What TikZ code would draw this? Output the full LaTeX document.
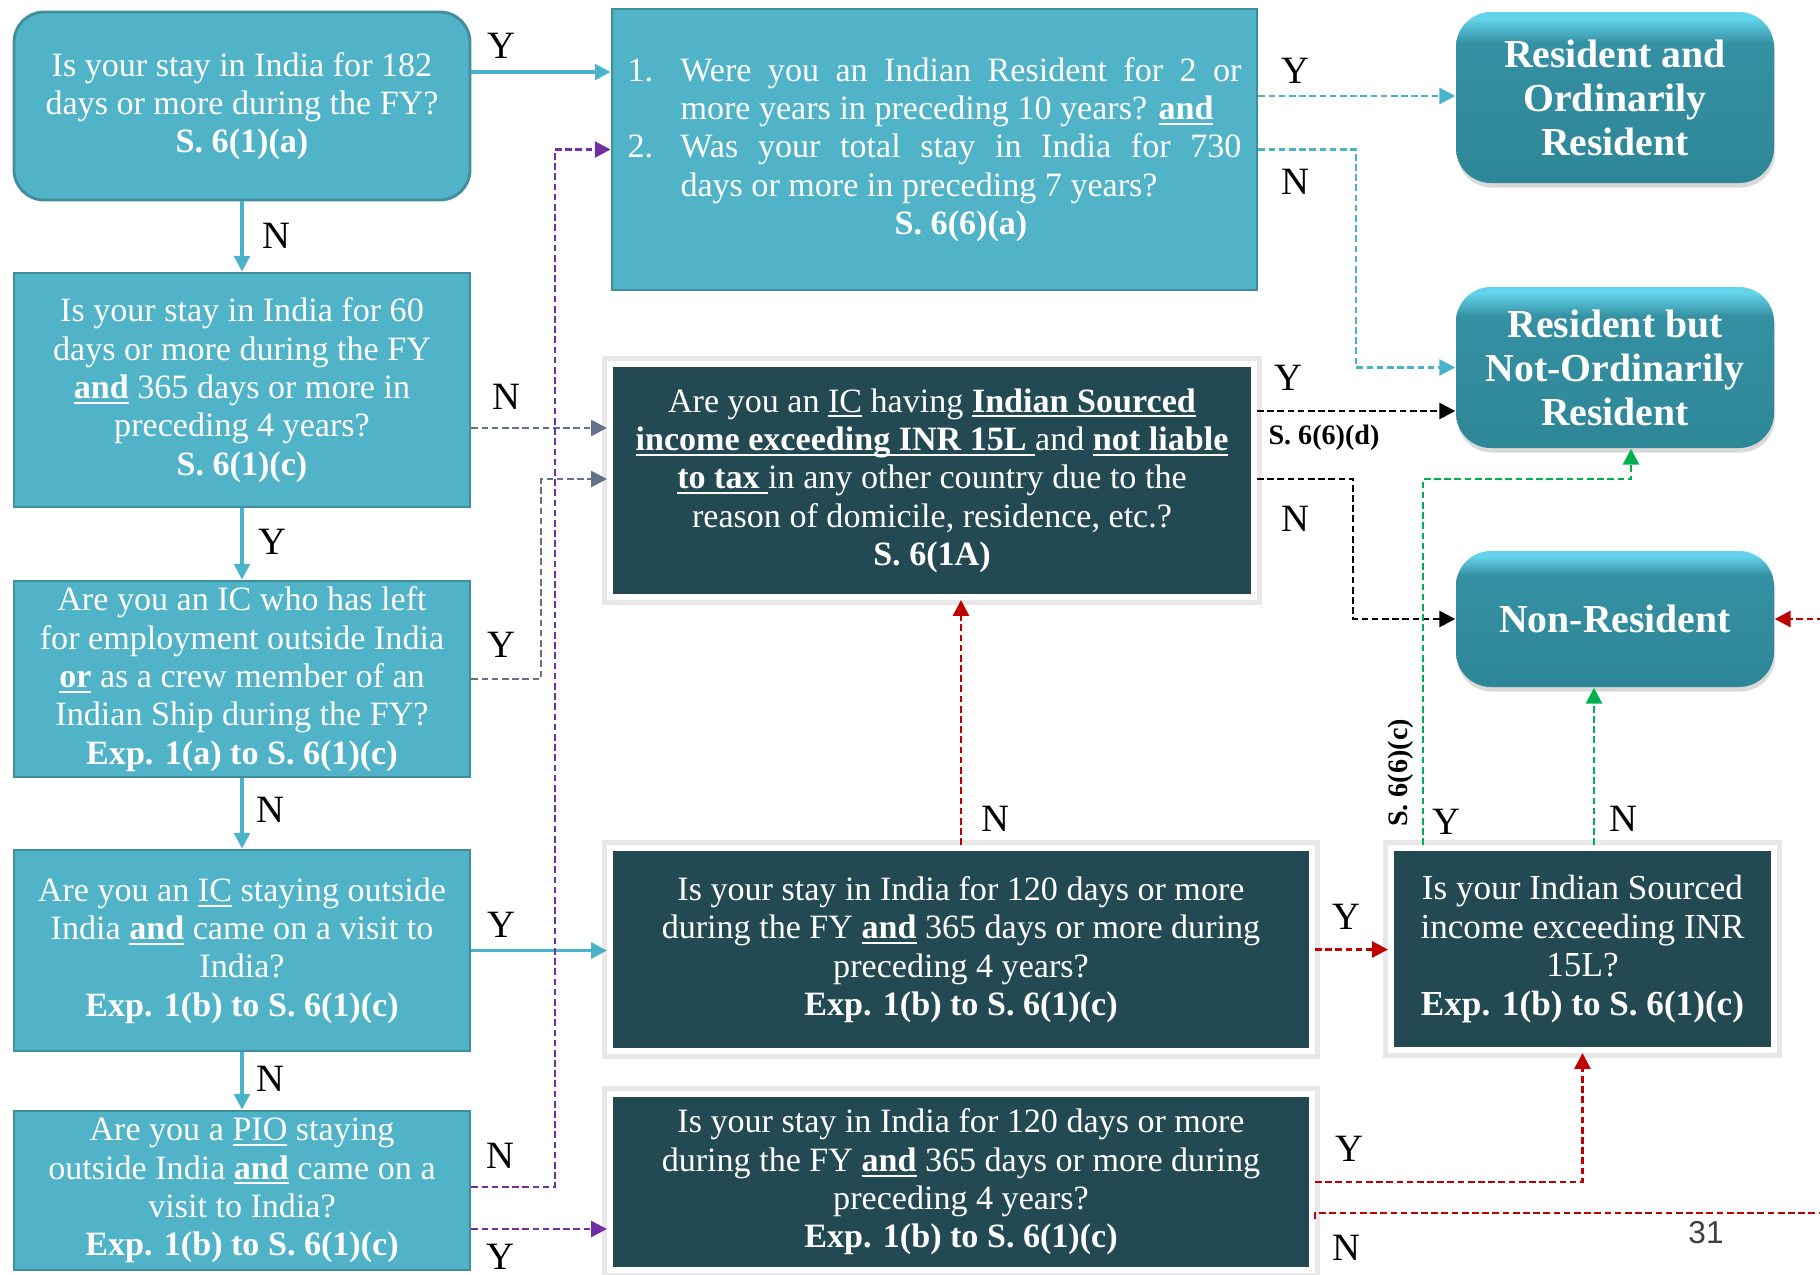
\documentclass[tikz,border=0pt]{standalone}
\usepackage{fontspec}
\setmainfont{Liberation Serif}
\setsansfont{Liberation Sans}
\usetikzlibrary{arrows.meta,shadows}

\definecolor{qfill}{HTML}{50B3C8}
\definecolor{qedge}{HTML}{3F8D9D}
\definecolor{dfill}{HTML}{234A52}
\definecolor{rlo}{HTML}{2E8797}
\definecolor{rmid}{HTML}{3590A3}
\definecolor{rhi}{HTML}{62D3EA}
\definecolor{tealln}{HTML}{4BB3C9}
\definecolor{slate}{HTML}{62728A}
\definecolor{purp}{HTML}{7030A0}
\definecolor{grn}{HTML}{00B050}
\definecolor{rd}{HTML}{C00000}

\pgfdeclareverticalshading{glossy}{100bp}{color(0bp)=(rlo); color(25bp)=(rlo); color(66bp)=(rmid); color(73bp)=(rhi); color(100bp)=(rhi)}

\newcommand{\uln}[1]{\sbox0{#1}\rlap{\rule[-1.5pt]{\wd0}{0.55pt}}\usebox0}
\newcommand{\ubf}[1]{\uln{\textbf{#1}}}

\tikzset{
  qbox/.style={draw=qedge, line width=0.8pt, fill=qfill, text=white, inner sep=0pt,
    align=center, minimum width=4.56cm, font=\fontsize{9.7}{10.9}\selectfont},
  dbox/.style={draw=white, line width=1.7pt, fill=dfill, text=white, inner sep=0pt,
    align=center, font=\fontsize{9.7}{10.9}\selectfont,
    preaction={draw=black!9, line width=4.4pt}},
  rbox/.style={rounded corners=0.35cm, shade, shading=glossy, text=white, inner sep=0pt,
    align=center, minimum width=3.18cm, font=\fontsize{11.3}{12.5}\selectfont\bfseries,
    drop shadow={shadow xshift=0.3pt, shadow yshift=-1.3pt, opacity=0.3}},
  yn/.style={inner sep=0pt, font=\fontsize{11}{13}\selectfont},
  sref/.style={inner sep=0pt, font=\fontsize{8}{9}\selectfont\bfseries},
  flow/.style={line width=0.9pt, -{Triangle[length=4.5pt,width=4.5pt]}},
  dflow/.style={line width=0.8pt, dash pattern=on 1.9pt off 1pt, -{Triangle[length=4.5pt,width=4.5pt]}},
}

\begin{document}
\begin{tikzpicture}
  \useasboundingbox (0,0) rectangle (18.2,-12.75);
  \clip (0,0) rectangle (18.2,-12.75);

  % left column of questions
  \node[qbox, rounded corners=0.3cm, minimum height=1.88cm] (q182) at (2.42,-1.06)
    {Is your stay in India for 182\\days or more during the FY?\\\textbf{S. 6(1)(a)}};
  \node[qbox, minimum height=2.34cm] (q60) at (2.42,-3.90)
    {Is your stay in India for 60\\days or more during the FY\\\ubf{and} 365 days or more in\\preceding 4 years?\\\textbf{S. 6(1)(c)}};
  \node[qbox, minimum height=1.96cm] (qcrew) at (2.42,-6.79)
    {Are you an IC who has left\\for employment outside India\\\ubf{or} as a crew member of an\\Indian Ship during the FY?\\\textbf{Exp. 1(a) to S. 6(1)(c)}};
  \node[qbox, minimum height=2.01cm] (qvisit) at (2.42,-9.505)
    {Are you an \uln{IC} staying outside\\India \ubf{and} came on a visit to\\India?\\\textbf{Exp. 1(b) to S. 6(1)(c)}};
  \node[qbox, minimum height=1.59cm] (qpio) at (2.42,-11.905)
    {Are you a \uln{PIO} staying\\outside India \ubf{and} came on a\\visit to India?\\\textbf{Exp. 1(b) to S. 6(1)(c)}};

  % middle column
  \node[qbox, minimum width=6.45cm, minimum height=2.81cm, text width=6.14cm, align=justify] (qres) at (9.345,-1.495)
    {\noindent\hangindent=0.53cm\hangafter=0\llap{\makebox[0.53cm][l]{1.}}Were you an Indian Resident for 2 or\linebreak more years in preceding 10 years? \ubf{and}\par
     \noindent\hangindent=0.53cm\hangafter=0\llap{\makebox[0.53cm][l]{2.}}Was your total stay in India for 730\linebreak days or more in preceding 7 years?\par
     \noindent\hspace*{0.53cm}\hspace*{\fill}\textbf{S. 6(6)(a)}\hspace*{\fill}\par};
  \node[dbox, minimum width=6.44cm, minimum height=2.33cm] (qic) at (9.32,-4.805)
    {Are you an \uln{IC} having \ubf{Indian Sourced}\\\ubf{income exceeding INR 15L }and \ubf{not liable}\\\ubf{to tax }in any other country due to the\\reason of domicile, residence, etc.?\\\textbf{S. 6(1A)}};
  \node[dbox, minimum width=7.02cm, minimum height=2.03cm] (q120a) at (9.61,-9.495)
    {Is your stay in India for 120 days or more\\during the FY \ubf{and} 365 days or more during\\preceding 4 years?\\\textbf{Exp. 1(b) to S. 6(1)(c)}};
  \node[dbox, minimum width=7.02cm, minimum height=1.76cm] (q120b) at (9.61,-11.82)
    {Is your stay in India for 120 days or more\\during the FY \ubf{and} 365 days or more during\\preceding 4 years?\\\textbf{Exp. 1(b) to S. 6(1)(c)}};
  \node[dbox, minimum width=3.83cm, minimum height=2.02cm, font=\fontsize{10}{11}\selectfont] (qinc) at (15.825,-9.49)
    {Is your Indian Sourced\\income exceeding INR\\15L?\\\textbf{Exp. 1(b) to S. 6(1)(c)}};

  % results
  \node[rbox, minimum height=1.71cm] (ror) at (16.15,-0.975) {Resident and\\Ordinarily\\Resident};
  \node[rbox, minimum height=1.61cm] (rnor) at (16.15,-3.675) {Resident but\\Not-Ordinarily\\Resident};
  \node[rbox, minimum height=1.36cm] (nr) at (16.15,-6.19) {Non-Resident};

  % solid connectors
  \draw[flow, draw=tealln] (q182.south) -- (q60.north);
  \draw[flow, draw=tealln] (q60.south) -- (qcrew.north);
  \draw[flow, draw=tealln] (qcrew.south) -- (qvisit.north);
  \draw[flow, draw=tealln] (qvisit.south) -- (qpio.north);
  \draw[flow, draw=tealln] (q182.east |- 0,-0.72) -- (qres.west |- 0,-0.72);
  \draw[flow, draw=tealln] (qvisit.east) -- (qvisit.east -| q120a.west);

  % dashed connectors
  \draw[dflow, draw=slate] (q60.east |- 0,-4.28) -- (qic.west |- 0,-4.28);
  \draw[dflow, draw=slate] (qcrew.east) -- (5.41,-6.79) |- (qic.west |- 0,-4.79);
  \draw[dflow, draw=purp] (qpio.east |- 0,-11.87) -- (5.55,-11.87) |- (qres.west);
  \draw[dflow, draw=purp] (qpio.east |- 0,-12.29) -- (q120b.west |- 0,-12.29);
  \draw[dflow, draw=tealln] (qres.east |- 0,-0.96) -- (ror.west |- 0,-0.96);
  \draw[dflow, draw=tealln] (qres.east) -- (13.56,-1.495) |- (rnor.west);
  \draw[dflow, draw=black] (qic.east |- 0,-4.11) -- (rnor.west |- 0,-4.11);
  \draw[dflow, draw=black] (qic.east |- 0,-4.79) -- (13.53,-4.79) |- (nr.west);
  \draw[dflow, draw=rd] (q120a.north) -- (qic.south -| q120a.north);
  \draw[dflow, draw=rd] (q120a.east) -- (q120a.east -| qinc.west);
  \draw[dflow, draw=rd] (q120b.east) -| (qinc.south);
  \draw[dflow, draw=rd] (q120b.east |- 0,-12.19) |- (18.4,-12.13) |- (nr.east);
  \draw[dflow, draw=grn] (qinc.north -| 14.23,0) |- (16.31,-4.79) -- (rnor.south -| 16.31,0);
  \draw[dflow, draw=grn] (qinc.north -| 15.94,0) -- (nr.south -| 15.94,0);

  % Y / N labels
  \node[yn] (y182) at (5.01,-0.46) {Y};
  \node[yn] (n182) at (2.76,-2.36) {N};
  \node[yn] (n60) at (5.06,-3.97) {N};
  \node[yn] (y60) at (2.72,-5.42) {Y};
  \node[yn] (ycrew) at (5.01,-6.45) {Y};
  \node[yn] (ncrew) at (2.70,-8.10) {N};
  \node[yn] (yvisit) at (5.01,-9.25) {Y};
  \node[yn] (nvisit) at (2.70,-10.79) {N};
  \node[yn] (npio) at (5.00,-11.56) {N};
  \node[yn] (ypio) at (5.00,-12.57) {Y};
  \node[yn] (yres) at (12.95,-0.71) {Y};
  \node[yn] (nres) at (12.95,-1.82) {N};
  \node[yn] (yic) at (12.88,-3.78) {Y};
  \node[sref] (s66d) at (13.24,-4.38) {S. 6(6)(d)};
  \node[yn] (nic) at (12.95,-5.19) {N};
  \node[yn] (n120a) at (9.95,-8.19) {N};
  \node[yn] (y120a) at (13.46,-9.17) {Y};
  \node[yn] (y120b) at (13.49,-11.49) {Y};
  \node[yn] (n120b) at (13.46,-12.48) {N};
  \node[sref, rotate=90] (s66c) at (14.01,-7.73) {S. 6(6)(c)};
  \node[yn] (yinc) at (14.46,-8.22) {Y};
  \node[yn] (ninc) at (16.23,-8.19) {N};
  \node[font=\sffamily\fontsize{9}{9}\selectfont, text=black!75, inner sep=0pt] (pgno) at (17.06,-12.33) {31};
\end{tikzpicture}
\end{document}
